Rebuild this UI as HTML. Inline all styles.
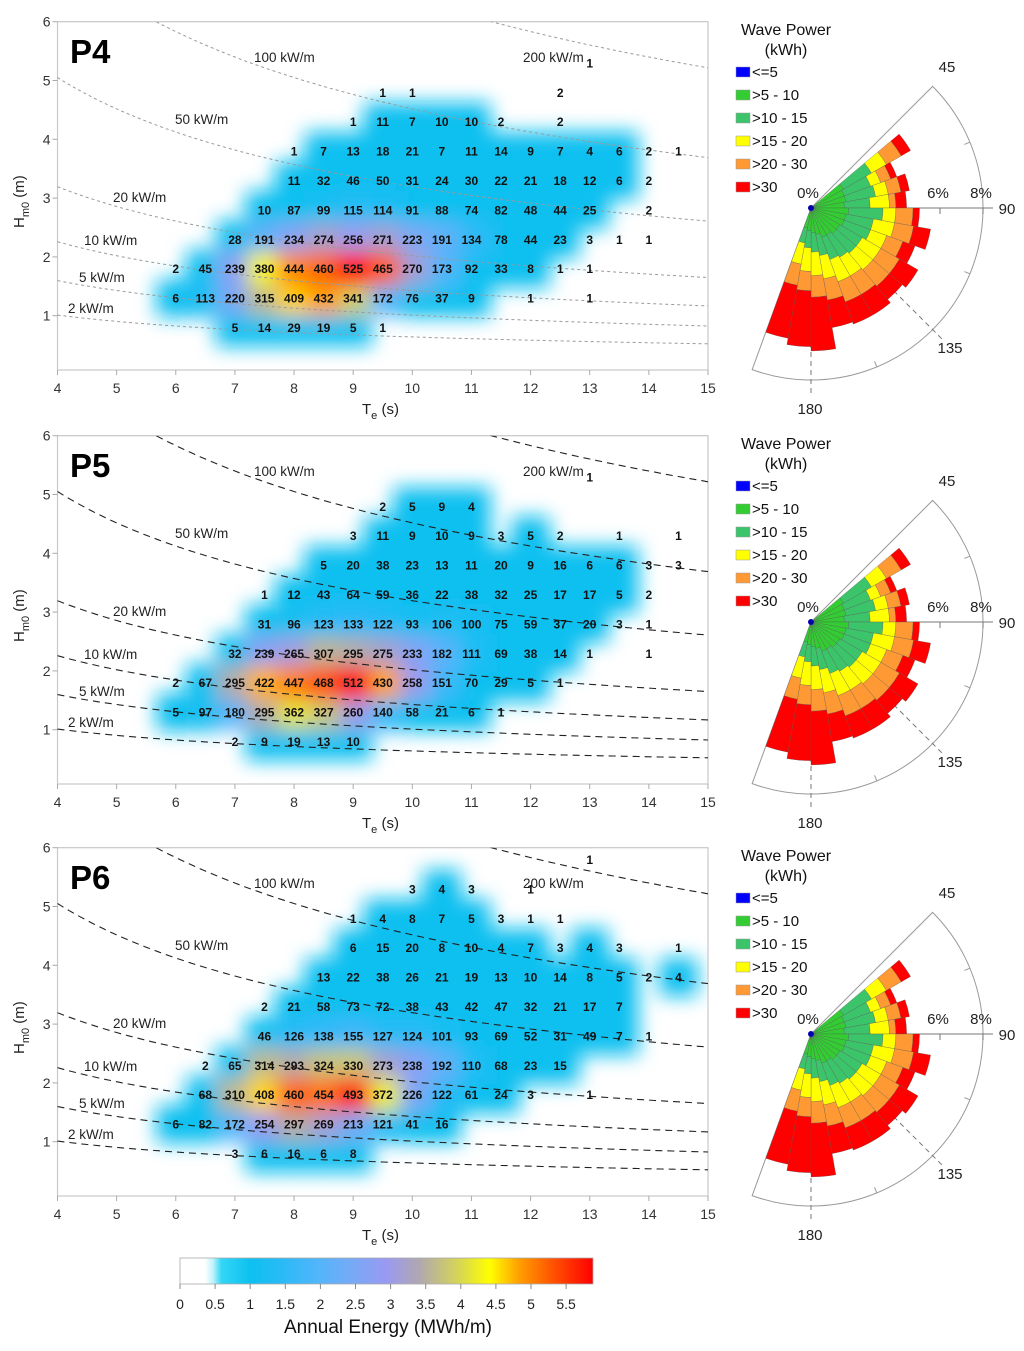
<!DOCTYPE html>
<html><head><meta charset="utf-8"><style>
body{margin:0;background:#fff}
svg{display:block;font-family:"Liberation Sans",sans-serif}
.num{font-family:"Liberation Sans Narrow","Liberation Sans",sans-serif;font-weight:bold;font-size:12px;fill:#111}
.tk{font-size:14px;fill:#333}
</style></head><body>
<svg id="s" width="1024" height="1351" viewBox="0 0 1024 1351">
<defs>
<filter id="blur" filterUnits="userSpaceOnUse" x="0" y="0" width="1024" height="1351"><feGaussianBlur stdDeviation="9.5"/></filter>
<linearGradient id="cbar" x1="0" x2="1" y1="0" y2="0">
<stop offset="0" stop-color="#fff"/><stop offset="0.06" stop-color="#fff"/><stop offset="0.08" stop-color="#bff3fb"/><stop offset="0.1" stop-color="#33d6f5"/><stop offset="0.17" stop-color="#0ec0f0"/><stop offset="0.25" stop-color="#2bbaf7"/><stop offset="0.34" stop-color="#55b5fb"/><stop offset="0.42" stop-color="#78a9f6"/><stop offset="0.5" stop-color="#9a99f2"/><stop offset="0.58" stop-color="#b0a8b0"/><stop offset="0.68" stop-color="#d8d850"/><stop offset="0.75" stop-color="#ffff00"/><stop offset="0.82" stop-color="#ffa000"/><stop offset="0.9" stop-color="#ff5500"/><stop offset="1" stop-color="#ff0000"/>
</linearGradient>
</defs>
</svg>
<script>
const NS='http://www.w3.org/2000/svg';
const svg=document.getElementById('s');
function mk(tag,attrs,parent,text){const e=document.createElementNS(NS,tag);for(const k in attrs)e.setAttribute(k,attrs[k]);if(text!==undefined)e.textContent=text;(parent||svg).appendChild(e);return e;}

const teCols=[6,6.5,7,7.5,8,8.5,9,9.5,10,10.5,11,11.5,12,12.5,13,13.5,14,14.5];
const panelNames=['P4','P5','P6'];
const hRowsP4=[5.3,4.8,4.3,3.8,3.3,2.8,2.3,1.8,1.3,0.8];
const countsP4=[
[0,0,0,0,0,0,0,0,0,0,0,0,0,0,1,0,0,0],
[0,0,0,0,0,0,0,1,1,0,0,0,0,2,0,0,0,0],
[0,0,0,0,0,0,1,11,7,10,10,2,0,2,0,0,0,0],
[0,0,0,0,1,7,13,18,21,7,11,14,9,7,4,6,2,1],
[0,0,0,0,11,32,46,50,31,24,30,22,21,18,12,6,2,0],
[0,0,0,10,87,99,115,114,91,88,74,82,48,44,25,0,2,0],
[0,0,28,191,234,274,256,271,223,191,134,78,44,23,3,1,1,0],
[2,45,239,380,444,460,525,465,270,173,92,33,8,1,1,0,0,0],
[6,113,220,315,409,432,341,172,76,37,9,0,1,0,1,0,0,0],
[0,0,5,14,29,19,5,1,0,0,0,0,0,0,0,0,0,0]];
const hRowsP5=[5.3,4.8,4.3,3.8,3.3,2.8,2.3,1.8,1.3,0.8];
const countsP5=[
[0,0,0,0,0,0,0,0,0,0,0,0,0,0,1,0,0,0],
[0,0,0,0,0,0,0,2,5,9,4,0,0,0,0,0,0,0],
[0,0,0,0,0,0,3,11,9,10,9,3,5,2,0,1,0,1],
[0,0,0,0,0,5,20,38,23,13,11,20,9,16,6,6,3,3],
[0,0,0,1,12,43,64,59,36,22,38,32,25,17,17,5,2,0],
[0,0,0,31,96,123,133,122,93,106,100,75,59,37,20,3,1,0],
[0,0,32,239,265,307,295,275,233,182,111,69,38,14,1,0,1,0],
[2,67,295,422,447,468,512,430,258,151,70,29,5,1,0,0,0,0],
[5,97,180,295,362,327,260,140,58,21,6,1,0,0,0,0,0,0],
[0,0,2,9,19,13,10,0,0,0,0,0,0,0,0,0,0,0]];
const hRowsP6=[5.8,5.3,4.8,4.3,3.8,3.3,2.8,2.3,1.8,1.3,0.8];
const countsP6=[
[0,0,0,0,0,0,0,0,0,0,0,0,0,0,1,0,0,0],
[0,0,0,0,0,0,0,0,3,4,3,0,1,0,0,0,0,0],
[0,0,0,0,0,0,1,4,8,7,5,3,1,1,0,0,0,0],
[0,0,0,0,0,0,6,15,20,8,10,4,7,3,4,3,0,1],
[0,0,0,0,0,13,22,38,26,21,19,13,10,14,8,5,2,4],
[0,0,0,2,21,58,73,72,38,43,42,47,32,21,17,7,0,0],
[0,0,0,46,126,138,155,127,124,101,93,69,52,31,49,7,1,0],
[0,2,65,314,293,324,330,273,238,192,110,68,23,15,0,0,0,0],
[0,68,310,408,460,454,493,372,226,122,61,24,3,0,1,0,0,0],
[6,82,172,254,297,269,213,121,41,16,0,0,0,0,0,0,0,0],
[0,0,3,6,16,6,8,0,0,0,0,0,0,0,0,0,0,0]];
const isoPowers=[2,5,10,20,50,100,200];
const isoLabels=['2 kW/m','5 kW/m','10 kW/m','20 kW/m','50 kW/m','100 kW/m','200 kW/m'];
const xTicks=[4,5,6,7,8,9,10,11,12,13,14,15];
const yTicks=[1,2,3,4,5,6];
const roseDirs=[55,65,75,85,95,105,115,125,135,145,155,165,175,185,195];
const roseG1=[1.6,1.5,1.5,1.4,1.6,1.5,1.5,1.4,1.4,1.3,1.3,1.1,1.0,0.9,0.8];
const roseG2=[1.5,1.3,1.4,1.2,1.6,1.3,1.3,1.2,1.2,1.2,1.1,1.0,0.9,0.8,0.7];
const roseY=[0.8,0.5,0.6,0.9,0.6,1.0,0.8,1.0,1.0,1.0,1.1,1.1,1.1,1.1,1.0];
const roseO=[0.8,0.5,0.6,0.3,0.8,0.9,0.8,1.0,1.0,1.0,1.0,1.0,1.0,0.9,1.0];
const roseR=[0.5,0.3,0.4,0.5,0.3,0.8,0.6,1.0,0.8,1.1,1.1,1.3,2.5,2.6,2.5];
const legendLabels=['<=5','>5 - 10','>10 - 15','>15 - 20','>20 - 30','>30'];
const legendColors=['#0000ff','#33cc33','#3cc46a','#ffff00','#ff9933','#ff0000'];
const cbarTicks=[0,0.5,1,1.5,2,2.5,3,3.5,4,4.5,5,5.5];

const stops=[[0,'#ffffff'],[0.35,'#ffffff'],[0.5,'#9eecfa'],[0.7,'#33d6f5'],[1,'#0ec0f0'],[1.5,'#2bbaf7'],[2,'#55b5fb'],[2.5,'#78a9f6'],[2.9,'#9a99f2'],[3.3,'#b0a8b0'],[4,'#d8d850'],[4.45,'#ffff00'],[4.8,'#ffb000'],[5.1,'#ff8000'],[5.5,'#ff3300'],[5.9,'#ff0000']];
function hex(c){return [1,3,5].map(i=>parseInt(c.substr(i,2),16));}
function colorOf(v){v=Math.max(0,Math.min(5.9,v));for(let i=1;i<stops.length;i++){if(v<=stops[i][0]){const a=stops[i-1],b=stops[i];const t=(v-a[0])/(b[0]-a[0]||1);const ca=hex(a[1]),cb=hex(b[1]);return 'rgb('+ca.map((x,j)=>Math.round(x+(cb[j]-x)*t)).join(',')+')';}}return '#ff0000';}

const X0=57.5,X1=708,TE0=4,TE1=15;
function xS(te){return X0+(te-TE0)*(X1-X0)/(TE1-TE0);}
function yS(h,off){return off+374.5-58.8*h;}
const offsets=[0,414,826];
const allRows=[hRowsP4,hRowsP5,hRowsP6], allCounts=[countsP4,countsP5,countsP6];

offsets.forEach((off,p)=>{
  const g=mk('g',{});
  
  
  const top=yS(6,off),bot=off+370;
  const clip=mk('clipPath',{id:'clip'+p},g);
  mk('rect',{x:X0,y:top,width:X1-X0,height:bot-top},clip);
  const cloudWrap=mk('g',{'clip-path':'url(#clip'+p+')'},g);
  const cloud=mk('g',{filter:'url(#blur)'},cloudWrap);
  
  
  const rows=allRows[p],counts=allCounts[p];
  const cw=xS(4.5)-xS(4), ch=58.8*0.5;
  const cells=[];
  rows.forEach((h,ri)=>{counts[ri].forEach((c,ci)=>{if(c>=4)cells.push([teCols[ci],h,c]);});});
  cells.sort((a,b)=>a[2]-b[2]);
  cells.forEach(([te,h,c])=>{
    const e=Math.max(1.0,c/88);
    const s=c>150?1.15:1.3;
    const r=mk('rect',{x:xS(te)-cw*s/2,y:yS(h,off)-ch*s/2,width:cw*s,height:ch*s,fill:colorOf(e)},cloud);
    
    
  });
  const fr=mk('rect',{x:X0,y:top,width:X1-X0,height:bot-top,fill:'none',stroke:'#c8c8c8','stroke-width':1.2},g);
  
  
  const lg=mk('g',{'clip-path':'url(#clip'+p+')'},g);
  isoPowers.forEach((P,i)=>{
    let d='';for(let te=4;te<=15.001;te+=0.1){const h=Math.sqrt(P/(0.49*te));d+=(d?'L':'M')+xS(te).toFixed(1)+','+yS(h,off).toFixed(1);}
    const l=mk('path',{d:d,fill:'none',stroke:p===0?'#9a9a9a':'#222','stroke-width':p===0?1:1.1,'stroke-dasharray':p===0?'3,3':'7,5'},lg);
    
    
  });
  const labPos=[[68,308],[79,277],[84,240],[113,197],[175,119],[254,57],[523,57]];
  isoLabels.forEach((t,i)=>{const tx=mk('text',{x:labPos[i][0],y:labPos[i][1]+off+5,'font-size':13.5,fill:'#222'},g,t);
    
    });
  rows.forEach((h,ri)=>{counts[ri].forEach((c,ci)=>{if(c>0){
    const t=mk('text',{x:xS(teCols[ci]),y:yS(h,off)+4.5,'text-anchor':'middle',class:'num'},g,c);
    
    
  }});});
  xTicks.forEach(v=>{mk('line',{x1:xS(v),x2:xS(v),y1:bot,y2:bot+5,stroke:'#aaa'},g);
    const t=mk('text',{x:xS(v),y:bot+23,'text-anchor':'middle',class:'tk'},g,v);
    
    });
  yTicks.forEach(v=>{mk('line',{x1:X0-5,x2:X0,y1:yS(v,off),y2:yS(v,off),stroke:'#aaa'},g);
    const t=mk('text',{x:X0-7,y:yS(v,off)+5,'text-anchor':'end',class:'tk'},g,v);
    
    });
  const xt=mk('text',{x:362,y:off+414,'font-size':15,fill:'#222'},g);
  xt.innerHTML='T<tspan font-size="11" dy="5">e</tspan><tspan dy="-5"> (s)</tspan>';
  
  
  const yt=mk('text',{transform:'translate(24,'+(off+228)+') rotate(-90)','font-size':15,fill:'#222'},g);
  yt.innerHTML='H<tspan font-size="11" dy="5">m0</tspan><tspan dy="-5"> (m)</tspan>';
  
  
  const pt=mk('text',{x:70,y:off+63,'font-size':33,'font-weight':'bold',fill:'#000'},g,panelNames[p]);
  
  

  const rg=mk('g',{});
  
  
  const cx=811,cy=208+off,K=21.5;
  const pt2=(a,r)=>[cx+r*Math.sin(a*Math.PI/180),cy-r*Math.cos(a*Math.PI/180)];
  const R=172;
  let a1=pt2(45,R),a2=pt2(200,R);
  mk('path',{d:`M${cx},${cy}L${a1}A${R},${R} 0 0 1 ${a2}Z`,fill:'none',stroke:'#999','stroke-width':1},rg);
  [[90,'none'],[135,'5,4'],[180,'5,4']].forEach(([a,da])=>{const e=pt2(a,a===90?R+10:R+15);mk('line',{x1:cx,y1:cy,x2:e[0],y2:e[1],stroke:'#777','stroke-dasharray':da},rg);});
  [2,4,6,8].forEach(q=>{const x=cx+q*K;mk('line',{x1:x,x2:x,y1:cy,y2:cy+6,stroke:'#777'},rg);});
  [67.5,112.5,157.5].forEach(a=>{const i=pt2(a,R-6),o=pt2(a,R);mk('line',{x1:i[0],y1:i[1],x2:o[0],y2:o[1],stroke:'#999'},rg);});
  const series=[roseG1,roseG2,roseY,roseO,roseR];
  const cols=['#33cc33','#3cc46a','#ffff00','#ff9933','#ff0000'];
  roseDirs.forEach((d,i)=>{let r0=0.15;series.forEach((s,k)=>{const r1=r0+s[i];
    const A=d-5,B=d+5,p1=pt2(A,r0*K),p2=pt2(A,r1*K),p3=pt2(B,r1*K),p4=pt2(B,r0*K);
    const w=mk('path',{d:`M${p1}L${p2}A${r1*K},${r1*K} 0 0 1 ${p3}L${p4}A${r0*K},${r0*K} 0 0 0 ${p1}Z`,fill:cols[k],stroke:'#555','stroke-width':0.3},rg);
    
    
    r0=r1;});});
  mk('circle',{cx:cx,cy:cy,r:3,fill:'#0000aa'},rg);
  [['45',947,72],['90',1007,214],['135',950,353],['180',810,414],['0%',808,198],['6%',938,198],['8%',981,198]].forEach(([t,x,y])=>{
    const tx=mk('text',{x:x,y:y+off,'text-anchor':'middle','font-size':15,fill:'#222'},rg,t);
    
    });
  const lgd=mk('g',{});
  
  
  mk('text',{x:786,y:off+35,'text-anchor':'middle','font-size':16,fill:'#111'},lgd,'Wave Power');
  mk('text',{x:786,y:off+55,'text-anchor':'middle','font-size':16,fill:'#111'},lgd,'(kWh)');
  legendLabels.forEach((t,i)=>{const y=off+67+i*23;
    mk('rect',{x:736,y:y,width:14,height:10,fill:legendColors[i],stroke:'#999','stroke-width':0.5},lgd);
    const e=mk('text',{x:752,y:y+10,'font-size':15,fill:'#111'},lgd,t);
    
    });
});

const cb=mk('g',{});


mk('rect',{x:180,y:1258,width:413,height:26,fill:'url(#cbar)',stroke:'#aaa','stroke-width':0.8},cb);
cbarTicks.forEach(v=>{const x=180+v*70.2;mk('line',{x1:x,x2:x,y1:1284,y2:1289,stroke:'#888'},cb);
  const t=mk('text',{x:x,y:1309,'text-anchor':'middle','font-size':14,fill:'#222'},cb,v);
  
  });
const ct=mk('text',{x:388,y:1333,'text-anchor':'middle','font-size':19,fill:'#111'},cb,'Annual Energy (MWh/m)');


</script>
</body></html>
